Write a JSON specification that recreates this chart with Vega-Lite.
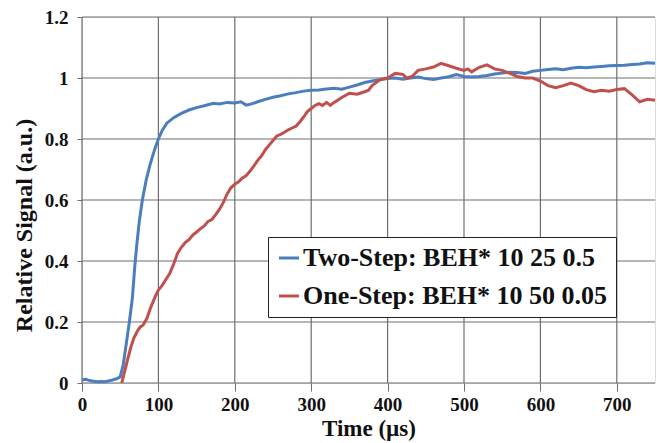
{
  "$schema": "https://vega.github.io/schema/vega-lite/v6.json",
  "width": 573,
  "height": 366,
  "autosize": {"type": "none"},
  "padding": {"left": 82, "top": 17, "right": 2, "bottom": 60},
  "background": "white",
  "datasets": {
    "xgrid": [{"gx": 0}, {"gx": 100}, {"gx": 200}, {"gx": 300}, {"gx": 400}, {"gx": 500}, {"gx": 600}, {"gx": 700}],
    "ygrid": [{"gy": 0}, {"gy": 0.2}, {"gy": 0.4}, {"gy": 0.6}, {"gy": 0.8}, {"gy": 1.0}, {"gy": 1.2}],
    "curves": [
      {"t": 0, "v": 0.010, "s": "Two-Step: BEH* 10 25 0.5"},
      {"t": 5, "v": 0.012, "s": "Two-Step: BEH* 10 25 0.5"},
      {"t": 10, "v": 0.008, "s": "Two-Step: BEH* 10 25 0.5"},
      {"t": 15, "v": 0.006, "s": "Two-Step: BEH* 10 25 0.5"},
      {"t": 20, "v": 0.004, "s": "Two-Step: BEH* 10 25 0.5"},
      {"t": 25, "v": 0.005, "s": "Two-Step: BEH* 10 25 0.5"},
      {"t": 30, "v": 0.004, "s": "Two-Step: BEH* 10 25 0.5"},
      {"t": 35, "v": 0.007, "s": "Two-Step: BEH* 10 25 0.5"},
      {"t": 40, "v": 0.010, "s": "Two-Step: BEH* 10 25 0.5"},
      {"t": 45, "v": 0.014, "s": "Two-Step: BEH* 10 25 0.5"},
      {"t": 50, "v": 0.020, "s": "Two-Step: BEH* 10 25 0.5"},
      {"t": 54, "v": 0.060, "s": "Two-Step: BEH* 10 25 0.5"},
      {"t": 58, "v": 0.130, "s": "Two-Step: BEH* 10 25 0.5"},
      {"t": 62, "v": 0.200, "s": "Two-Step: BEH* 10 25 0.5"},
      {"t": 66, "v": 0.280, "s": "Two-Step: BEH* 10 25 0.5"},
      {"t": 69, "v": 0.380, "s": "Two-Step: BEH* 10 25 0.5"},
      {"t": 72, "v": 0.460, "s": "Two-Step: BEH* 10 25 0.5"},
      {"t": 75, "v": 0.530, "s": "Two-Step: BEH* 10 25 0.5"},
      {"t": 79, "v": 0.600, "s": "Two-Step: BEH* 10 25 0.5"},
      {"t": 84, "v": 0.665, "s": "Two-Step: BEH* 10 25 0.5"},
      {"t": 89, "v": 0.715, "s": "Two-Step: BEH* 10 25 0.5"},
      {"t": 95, "v": 0.765, "s": "Two-Step: BEH* 10 25 0.5"},
      {"t": 100, "v": 0.800, "s": "Two-Step: BEH* 10 25 0.5"},
      {"t": 105, "v": 0.828, "s": "Two-Step: BEH* 10 25 0.5"},
      {"t": 111, "v": 0.852, "s": "Two-Step: BEH* 10 25 0.5"},
      {"t": 120, "v": 0.870, "s": "Two-Step: BEH* 10 25 0.5"},
      {"t": 130, "v": 0.884, "s": "Two-Step: BEH* 10 25 0.5"},
      {"t": 140, "v": 0.895, "s": "Two-Step: BEH* 10 25 0.5"},
      {"t": 150, "v": 0.903, "s": "Two-Step: BEH* 10 25 0.5"},
      {"t": 160, "v": 0.909, "s": "Two-Step: BEH* 10 25 0.5"},
      {"t": 172, "v": 0.917, "s": "Two-Step: BEH* 10 25 0.5"},
      {"t": 180, "v": 0.915, "s": "Two-Step: BEH* 10 25 0.5"},
      {"t": 190, "v": 0.920, "s": "Two-Step: BEH* 10 25 0.5"},
      {"t": 200, "v": 0.918, "s": "Two-Step: BEH* 10 25 0.5"},
      {"t": 208, "v": 0.922, "s": "Two-Step: BEH* 10 25 0.5"},
      {"t": 215, "v": 0.911, "s": "Two-Step: BEH* 10 25 0.5"},
      {"t": 222, "v": 0.915, "s": "Two-Step: BEH* 10 25 0.5"},
      {"t": 230, "v": 0.922, "s": "Two-Step: BEH* 10 25 0.5"},
      {"t": 240, "v": 0.930, "s": "Two-Step: BEH* 10 25 0.5"},
      {"t": 250, "v": 0.937, "s": "Two-Step: BEH* 10 25 0.5"},
      {"t": 260, "v": 0.942, "s": "Two-Step: BEH* 10 25 0.5"},
      {"t": 270, "v": 0.948, "s": "Two-Step: BEH* 10 25 0.5"},
      {"t": 280, "v": 0.952, "s": "Two-Step: BEH* 10 25 0.5"},
      {"t": 290, "v": 0.957, "s": "Two-Step: BEH* 10 25 0.5"},
      {"t": 300, "v": 0.960, "s": "Two-Step: BEH* 10 25 0.5"},
      {"t": 310, "v": 0.961, "s": "Two-Step: BEH* 10 25 0.5"},
      {"t": 320, "v": 0.964, "s": "Two-Step: BEH* 10 25 0.5"},
      {"t": 330, "v": 0.966, "s": "Two-Step: BEH* 10 25 0.5"},
      {"t": 340, "v": 0.963, "s": "Two-Step: BEH* 10 25 0.5"},
      {"t": 350, "v": 0.970, "s": "Two-Step: BEH* 10 25 0.5"},
      {"t": 360, "v": 0.977, "s": "Two-Step: BEH* 10 25 0.5"},
      {"t": 370, "v": 0.985, "s": "Two-Step: BEH* 10 25 0.5"},
      {"t": 380, "v": 0.990, "s": "Two-Step: BEH* 10 25 0.5"},
      {"t": 390, "v": 0.995, "s": "Two-Step: BEH* 10 25 0.5"},
      {"t": 400, "v": 0.998, "s": "Two-Step: BEH* 10 25 0.5"},
      {"t": 410, "v": 1.000, "s": "Two-Step: BEH* 10 25 0.5"},
      {"t": 420, "v": 0.996, "s": "Two-Step: BEH* 10 25 0.5"},
      {"t": 430, "v": 1.000, "s": "Two-Step: BEH* 10 25 0.5"},
      {"t": 440, "v": 1.003, "s": "Two-Step: BEH* 10 25 0.5"},
      {"t": 450, "v": 0.998, "s": "Two-Step: BEH* 10 25 0.5"},
      {"t": 460, "v": 0.995, "s": "Two-Step: BEH* 10 25 0.5"},
      {"t": 470, "v": 1.000, "s": "Two-Step: BEH* 10 25 0.5"},
      {"t": 480, "v": 1.004, "s": "Two-Step: BEH* 10 25 0.5"},
      {"t": 490, "v": 1.011, "s": "Two-Step: BEH* 10 25 0.5"},
      {"t": 500, "v": 1.005, "s": "Two-Step: BEH* 10 25 0.5"},
      {"t": 510, "v": 1.003, "s": "Two-Step: BEH* 10 25 0.5"},
      {"t": 520, "v": 1.005, "s": "Two-Step: BEH* 10 25 0.5"},
      {"t": 530, "v": 1.008, "s": "Two-Step: BEH* 10 25 0.5"},
      {"t": 540, "v": 1.013, "s": "Two-Step: BEH* 10 25 0.5"},
      {"t": 550, "v": 1.016, "s": "Two-Step: BEH* 10 25 0.5"},
      {"t": 560, "v": 1.019, "s": "Two-Step: BEH* 10 25 0.5"},
      {"t": 570, "v": 1.018, "s": "Two-Step: BEH* 10 25 0.5"},
      {"t": 580, "v": 1.015, "s": "Two-Step: BEH* 10 25 0.5"},
      {"t": 590, "v": 1.022, "s": "Two-Step: BEH* 10 25 0.5"},
      {"t": 600, "v": 1.025, "s": "Two-Step: BEH* 10 25 0.5"},
      {"t": 610, "v": 1.028, "s": "Two-Step: BEH* 10 25 0.5"},
      {"t": 620, "v": 1.030, "s": "Two-Step: BEH* 10 25 0.5"},
      {"t": 630, "v": 1.027, "s": "Two-Step: BEH* 10 25 0.5"},
      {"t": 640, "v": 1.032, "s": "Two-Step: BEH* 10 25 0.5"},
      {"t": 650, "v": 1.035, "s": "Two-Step: BEH* 10 25 0.5"},
      {"t": 660, "v": 1.034, "s": "Two-Step: BEH* 10 25 0.5"},
      {"t": 670, "v": 1.036, "s": "Two-Step: BEH* 10 25 0.5"},
      {"t": 680, "v": 1.038, "s": "Two-Step: BEH* 10 25 0.5"},
      {"t": 690, "v": 1.040, "s": "Two-Step: BEH* 10 25 0.5"},
      {"t": 700, "v": 1.041, "s": "Two-Step: BEH* 10 25 0.5"},
      {"t": 710, "v": 1.042, "s": "Two-Step: BEH* 10 25 0.5"},
      {"t": 720, "v": 1.044, "s": "Two-Step: BEH* 10 25 0.5"},
      {"t": 730, "v": 1.046, "s": "Two-Step: BEH* 10 25 0.5"},
      {"t": 740, "v": 1.050, "s": "Two-Step: BEH* 10 25 0.5"},
      {"t": 750, "v": 1.048, "s": "Two-Step: BEH* 10 25 0.5"},

      {"t": 52, "v": 0.000, "s": "One-Step: BEH* 10 50 0.05"},
      {"t": 56, "v": 0.040, "s": "One-Step: BEH* 10 50 0.05"},
      {"t": 60, "v": 0.080, "s": "One-Step: BEH* 10 50 0.05"},
      {"t": 64, "v": 0.118, "s": "One-Step: BEH* 10 50 0.05"},
      {"t": 68, "v": 0.148, "s": "One-Step: BEH* 10 50 0.05"},
      {"t": 72, "v": 0.168, "s": "One-Step: BEH* 10 50 0.05"},
      {"t": 76, "v": 0.183, "s": "One-Step: BEH* 10 50 0.05"},
      {"t": 80, "v": 0.190, "s": "One-Step: BEH* 10 50 0.05"},
      {"t": 85, "v": 0.212, "s": "One-Step: BEH* 10 50 0.05"},
      {"t": 90, "v": 0.248, "s": "One-Step: BEH* 10 50 0.05"},
      {"t": 95, "v": 0.278, "s": "One-Step: BEH* 10 50 0.05"},
      {"t": 100, "v": 0.305, "s": "One-Step: BEH* 10 50 0.05"},
      {"t": 105, "v": 0.320, "s": "One-Step: BEH* 10 50 0.05"},
      {"t": 110, "v": 0.340, "s": "One-Step: BEH* 10 50 0.05"},
      {"t": 115, "v": 0.360, "s": "One-Step: BEH* 10 50 0.05"},
      {"t": 120, "v": 0.390, "s": "One-Step: BEH* 10 50 0.05"},
      {"t": 125, "v": 0.425, "s": "One-Step: BEH* 10 50 0.05"},
      {"t": 130, "v": 0.445, "s": "One-Step: BEH* 10 50 0.05"},
      {"t": 135, "v": 0.460, "s": "One-Step: BEH* 10 50 0.05"},
      {"t": 140, "v": 0.470, "s": "One-Step: BEH* 10 50 0.05"},
      {"t": 145, "v": 0.485, "s": "One-Step: BEH* 10 50 0.05"},
      {"t": 150, "v": 0.495, "s": "One-Step: BEH* 10 50 0.05"},
      {"t": 155, "v": 0.506, "s": "One-Step: BEH* 10 50 0.05"},
      {"t": 160, "v": 0.515, "s": "One-Step: BEH* 10 50 0.05"},
      {"t": 165, "v": 0.530, "s": "One-Step: BEH* 10 50 0.05"},
      {"t": 170, "v": 0.536, "s": "One-Step: BEH* 10 50 0.05"},
      {"t": 175, "v": 0.552, "s": "One-Step: BEH* 10 50 0.05"},
      {"t": 180, "v": 0.570, "s": "One-Step: BEH* 10 50 0.05"},
      {"t": 185, "v": 0.592, "s": "One-Step: BEH* 10 50 0.05"},
      {"t": 190, "v": 0.620, "s": "One-Step: BEH* 10 50 0.05"},
      {"t": 195, "v": 0.640, "s": "One-Step: BEH* 10 50 0.05"},
      {"t": 200, "v": 0.652, "s": "One-Step: BEH* 10 50 0.05"},
      {"t": 205, "v": 0.660, "s": "One-Step: BEH* 10 50 0.05"},
      {"t": 210, "v": 0.672, "s": "One-Step: BEH* 10 50 0.05"},
      {"t": 215, "v": 0.680, "s": "One-Step: BEH* 10 50 0.05"},
      {"t": 220, "v": 0.695, "s": "One-Step: BEH* 10 50 0.05"},
      {"t": 225, "v": 0.712, "s": "One-Step: BEH* 10 50 0.05"},
      {"t": 230, "v": 0.730, "s": "One-Step: BEH* 10 50 0.05"},
      {"t": 235, "v": 0.745, "s": "One-Step: BEH* 10 50 0.05"},
      {"t": 240, "v": 0.765, "s": "One-Step: BEH* 10 50 0.05"},
      {"t": 245, "v": 0.780, "s": "One-Step: BEH* 10 50 0.05"},
      {"t": 250, "v": 0.795, "s": "One-Step: BEH* 10 50 0.05"},
      {"t": 255, "v": 0.810, "s": "One-Step: BEH* 10 50 0.05"},
      {"t": 260, "v": 0.815, "s": "One-Step: BEH* 10 50 0.05"},
      {"t": 265, "v": 0.822, "s": "One-Step: BEH* 10 50 0.05"},
      {"t": 270, "v": 0.830, "s": "One-Step: BEH* 10 50 0.05"},
      {"t": 275, "v": 0.836, "s": "One-Step: BEH* 10 50 0.05"},
      {"t": 280, "v": 0.842, "s": "One-Step: BEH* 10 50 0.05"},
      {"t": 285, "v": 0.856, "s": "One-Step: BEH* 10 50 0.05"},
      {"t": 290, "v": 0.872, "s": "One-Step: BEH* 10 50 0.05"},
      {"t": 295, "v": 0.890, "s": "One-Step: BEH* 10 50 0.05"},
      {"t": 300, "v": 0.900, "s": "One-Step: BEH* 10 50 0.05"},
      {"t": 305, "v": 0.910, "s": "One-Step: BEH* 10 50 0.05"},
      {"t": 310, "v": 0.916, "s": "One-Step: BEH* 10 50 0.05"},
      {"t": 315, "v": 0.910, "s": "One-Step: BEH* 10 50 0.05"},
      {"t": 320, "v": 0.920, "s": "One-Step: BEH* 10 50 0.05"},
      {"t": 325, "v": 0.910, "s": "One-Step: BEH* 10 50 0.05"},
      {"t": 330, "v": 0.920, "s": "One-Step: BEH* 10 50 0.05"},
      {"t": 340, "v": 0.936, "s": "One-Step: BEH* 10 50 0.05"},
      {"t": 350, "v": 0.950, "s": "One-Step: BEH* 10 50 0.05"},
      {"t": 360, "v": 0.947, "s": "One-Step: BEH* 10 50 0.05"},
      {"t": 370, "v": 0.955, "s": "One-Step: BEH* 10 50 0.05"},
      {"t": 375, "v": 0.960, "s": "One-Step: BEH* 10 50 0.05"},
      {"t": 380, "v": 0.976, "s": "One-Step: BEH* 10 50 0.05"},
      {"t": 390, "v": 0.994, "s": "One-Step: BEH* 10 50 0.05"},
      {"t": 400, "v": 1.000, "s": "One-Step: BEH* 10 50 0.05"},
      {"t": 410, "v": 1.015, "s": "One-Step: BEH* 10 50 0.05"},
      {"t": 420, "v": 1.012, "s": "One-Step: BEH* 10 50 0.05"},
      {"t": 425, "v": 1.000, "s": "One-Step: BEH* 10 50 0.05"},
      {"t": 432, "v": 1.005, "s": "One-Step: BEH* 10 50 0.05"},
      {"t": 440, "v": 1.025, "s": "One-Step: BEH* 10 50 0.05"},
      {"t": 450, "v": 1.030, "s": "One-Step: BEH* 10 50 0.05"},
      {"t": 460, "v": 1.036, "s": "One-Step: BEH* 10 50 0.05"},
      {"t": 470, "v": 1.048, "s": "One-Step: BEH* 10 50 0.05"},
      {"t": 480, "v": 1.040, "s": "One-Step: BEH* 10 50 0.05"},
      {"t": 490, "v": 1.032, "s": "One-Step: BEH* 10 50 0.05"},
      {"t": 500, "v": 1.025, "s": "One-Step: BEH* 10 50 0.05"},
      {"t": 505, "v": 1.030, "s": "One-Step: BEH* 10 50 0.05"},
      {"t": 510, "v": 1.020, "s": "One-Step: BEH* 10 50 0.05"},
      {"t": 520, "v": 1.035, "s": "One-Step: BEH* 10 50 0.05"},
      {"t": 530, "v": 1.043, "s": "One-Step: BEH* 10 50 0.05"},
      {"t": 540, "v": 1.030, "s": "One-Step: BEH* 10 50 0.05"},
      {"t": 550, "v": 1.025, "s": "One-Step: BEH* 10 50 0.05"},
      {"t": 560, "v": 1.015, "s": "One-Step: BEH* 10 50 0.05"},
      {"t": 570, "v": 1.005, "s": "One-Step: BEH* 10 50 0.05"},
      {"t": 580, "v": 1.000, "s": "One-Step: BEH* 10 50 0.05"},
      {"t": 590, "v": 1.000, "s": "One-Step: BEH* 10 50 0.05"},
      {"t": 600, "v": 0.990, "s": "One-Step: BEH* 10 50 0.05"},
      {"t": 610, "v": 0.975, "s": "One-Step: BEH* 10 50 0.05"},
      {"t": 620, "v": 0.968, "s": "One-Step: BEH* 10 50 0.05"},
      {"t": 630, "v": 0.975, "s": "One-Step: BEH* 10 50 0.05"},
      {"t": 640, "v": 0.983, "s": "One-Step: BEH* 10 50 0.05"},
      {"t": 650, "v": 0.975, "s": "One-Step: BEH* 10 50 0.05"},
      {"t": 660, "v": 0.962, "s": "One-Step: BEH* 10 50 0.05"},
      {"t": 670, "v": 0.955, "s": "One-Step: BEH* 10 50 0.05"},
      {"t": 680, "v": 0.960, "s": "One-Step: BEH* 10 50 0.05"},
      {"t": 690, "v": 0.957, "s": "One-Step: BEH* 10 50 0.05"},
      {"t": 700, "v": 0.962, "s": "One-Step: BEH* 10 50 0.05"},
      {"t": 710, "v": 0.965, "s": "One-Step: BEH* 10 50 0.05"},
      {"t": 720, "v": 0.945, "s": "One-Step: BEH* 10 50 0.05"},
      {"t": 730, "v": 0.922, "s": "One-Step: BEH* 10 50 0.05"},
      {"t": 740, "v": 0.930, "s": "One-Step: BEH* 10 50 0.05"},
      {"t": 750, "v": 0.927, "s": "One-Step: BEH* 10 50 0.05"}
    ]
  },
  "layer": [
    {
      "data": {"name": "xgrid"},
      "mark": {"type": "rule", "color": "#6e6e6e", "strokeWidth": 1.2},
      "encoding": {
        "x": {"field": "gx", "type": "quantitative", "scale": {"domain": [0, 750], "nice": false}}
      }
    },
    {
      "data": {"name": "ygrid"},
      "mark": {"type": "rule", "color": "#6e6e6e", "strokeWidth": 1.2},
      "encoding": {
        "y": {"field": "gy", "type": "quantitative", "scale": {"domain": [0, 1.2], "nice": false}}
      }
    },
    {
      "data": {"name": "curves"},
      "mark": {"type": "line", "strokeWidth": 3},
      "encoding": {
        "x": {
          "field": "t",
          "type": "quantitative",
          "scale": {"domain": [0, 750], "nice": false},
          "axis": {
            "title": "Time (µs)",
            "values": [0, 100, 200, 300, 400, 500, 600, 700],
            "grid": false,
            "domain": false,
            "ticks": true,
            "tickColor": "#6e6e6e",
            "tickSize": 8,
            "labelFlush": false,
            "labelFont": "Times New Roman, Liberation Serif, serif",
            "labelFontWeight": "bold",
            "labelColor": "#111",
            "labelFontSize": 19,
            "labelPadding": 4,
            "titleFont": "Liberation Serif",
            "titleFontWeight": "bold",
            "titleColor": "#111",
            "titleFontSize": 23,
            "titleY": 52,
            "titleBaseline": "alphabetic"
          }
        },
        "y": {
          "field": "v",
          "type": "quantitative",
          "scale": {"domain": [0, 1.2], "nice": false},
          "axis": {
            "title": "Relative Signal (a.u.)",
            "values": [0, 0.2, 0.4, 0.6, 0.8, 1, 1.2],
            "format": ".1~f",
            "grid": false,
            "domain": false,
            "ticks": true,
            "tickColor": "#6e6e6e",
            "tickSize": 5,
            "labelFlush": false,
            "labelFont": "Times New Roman, Liberation Serif, serif",
            "labelFontWeight": "bold",
            "labelColor": "#111",
            "labelFontSize": 19,
            "labelPadding": 9,
            "titleFont": "Liberation Serif",
            "titleFontWeight": "bold",
            "titleColor": "#111",
            "titleFontSize": 24,
            "titleX": -51,
            "titleY": 208,
            "titleAngle": -90,
            "titleAlign": "center",
            "titleBaseline": "alphabetic"
          }
        },
        "color": {
          "field": "s",
          "type": "nominal",
          "title": null,
          "scale": {
            "domain": ["Two-Step: BEH* 10 25 0.5", "One-Step: BEH* 10 50 0.05"],
            "range": ["#4a7ebf", "#c0504d"]
          },
          "legend": {
            "orient": "none",
            "legendX": 186,
            "legendY": 220,
            "symbolType": "stroke",
            "symbolSize": 400,
            "symbolStrokeWidth": 3,
            "labelFont": "Times New Roman, Liberation Serif, serif",
            "labelFontWeight": "bold",
            "labelFontSize": 26,
            "labelColor": "#111",
            "labelOffset": 1,
            "labelLimit": 400,
            "rowPadding": 12,
            "padding": 8,
            "strokeColor": "#222",
            "fillColor": "white"
          }
        }
      }
    }
  ]
}
